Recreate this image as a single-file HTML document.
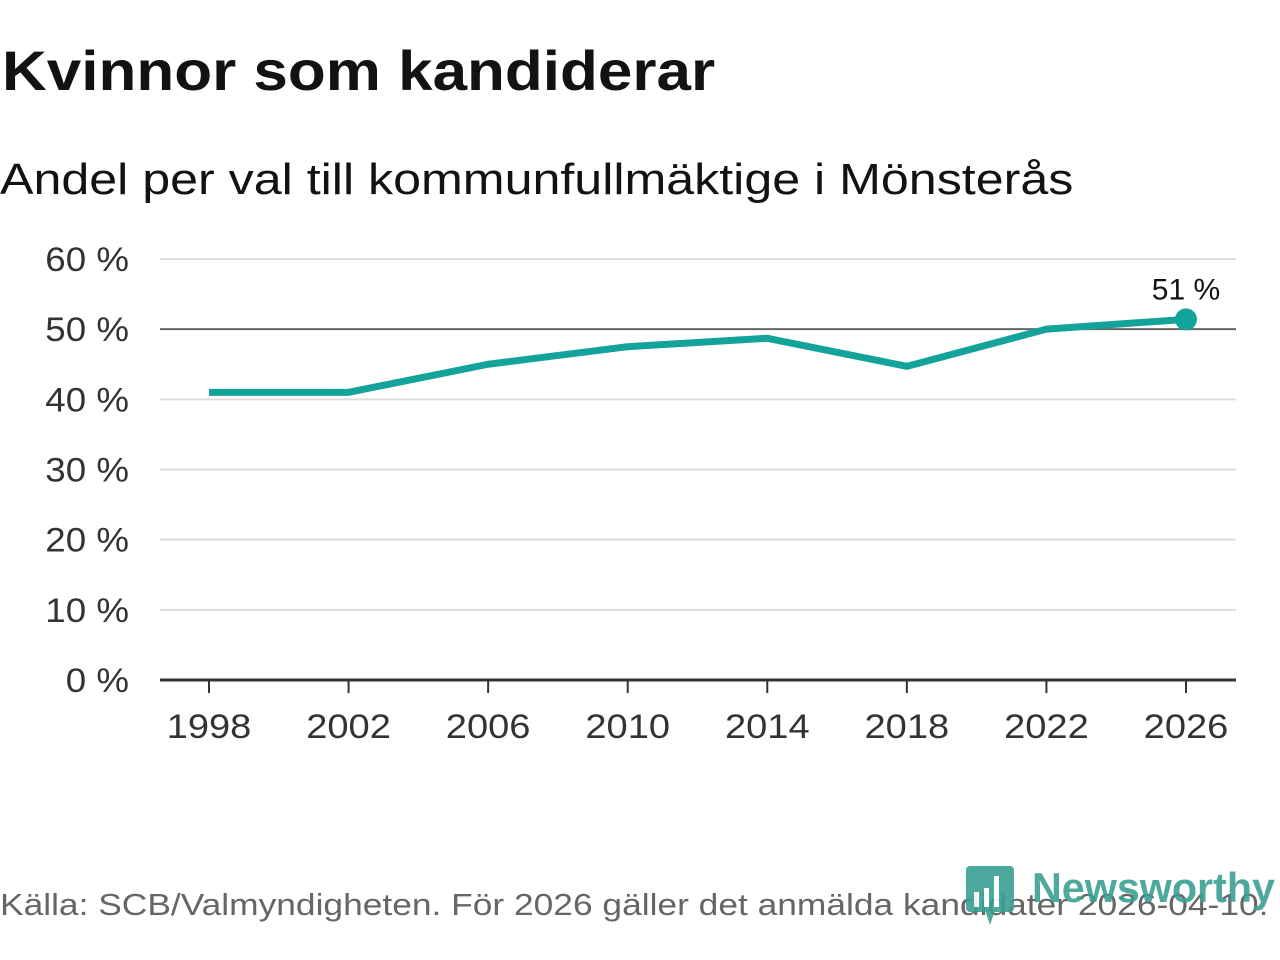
<!DOCTYPE html>
<html><head><meta charset="utf-8">
<style>
body{margin:0;width:1280px;height:960px;background:#fff;font-family:"Liberation Sans",sans-serif;overflow:hidden;position:relative}
.t{position:absolute;left:2px;top:38px;font-size:56px;font-weight:bold;color:#121212;margin:0;transform:scaleX(1.107);transform-origin:0 0;white-space:nowrap}
.s{position:absolute;left:0;top:155px;font-size:44px;color:#121212;transform:scaleX(1.14);transform-origin:0 0;white-space:nowrap}
.src{position:absolute;left:0;top:887px;font-size:31px;color:#666;white-space:nowrap;transform:scaleX(1.14);transform-origin:0 0}
</style></head><body>
<h1 class="t">Kvinnor som kandiderar</h1>
<div class="s">Andel per val till kommunfullmäktige i Mönsterås</div>
<div class="src">Källa: SCB/Valmyndigheten. För 2026 gäller det anmälda kandidater 2026-04-10.</div>
<svg width="1280" height="960" style="position:absolute;left:0;top:0" id="c">
<g opacity="0.9">
<rect x="966" y="866" width="48" height="46" rx="4" fill="#3a9f94"/>
<polygon points="985,910 995,910 990,925" fill="#3a9f94"/>
<rect x="974" y="892" width="5" height="15" fill="#fff"/><rect x="984" y="888" width="5" height="19" fill="#fff"/><rect x="994" y="876" width="5" height="31" fill="#fff"/>
<text x="1032" y="902" font-size="42" font-weight="bold" fill="#3a9f94" textLength="243" lengthAdjust="spacingAndGlyphs" font-family="Liberation Sans, sans-serif">Newsworthy</text>
</g>
</svg>
<script>
const years=[1998,2002,2006,2010,2014,2018,2022,2026];
const values=[41.0,41.0,45.0,47.5,48.7,44.7,50.0,51.4];
const yTicks=[0,10,20,30,40,50,60];
const svg=document.getElementById('c');
const NS='http://www.w3.org/2000/svg';
const x=v=>209+(v-1998)*(1186-209)/28;
const y=v=>680-v*(680-259)/60;
function mk(t,a,p){const e=document.createElementNS(NS,t);for(const k in a)e.setAttribute(k,a[k]);(p||svg).appendChild(e);return e;}
yTicks.forEach(v=>{
  const l=mk('line',{x1:160,x2:1236,y1:y(v),y2:y(v),stroke:v===0?'#333':v===50?'#666':'#ddd','stroke-width':v===0?3:2});
  
  
  const t=mk('text',{x:129,y:y(v)+12,'text-anchor':'end','font-size':34,fill:'#333',transform:'translate(129,0) scale(1.08,1) translate(-129,0)'});
  t.textContent=v+' %';
  
  
});
years.forEach(v=>{
  const l=mk('line',{x1:x(v),x2:x(v),y1:680,y2:693,stroke:'#333','stroke-width':2});
  
  
  const t=mk('text',{x:x(v),y:738,'text-anchor':'middle','font-size':34,fill:'#333',transform:'translate('+x(v)+',0) scale(1.12,1) translate('+(-x(v))+',0)'});
  t.textContent=v;
  
  
});
const p=mk('polyline',{points:years.map((v,i)=>x(v)+','+y(values[i])).join(' '),fill:'none',stroke:'#13a39a','stroke-width':7,'stroke-linejoin':'round'});


const n=years.length-1;
const d=mk('circle',{cx:x(years[n]),cy:y(values[n]),r:11,fill:'#13a39a'});


const lb=mk('text',{x:x(years[n]),y:y(values[n])-20,'text-anchor':'middle','font-size':30,fill:'#121212'});
lb.textContent=Math.round(values[n])+' %';


</script>
</body></html>
